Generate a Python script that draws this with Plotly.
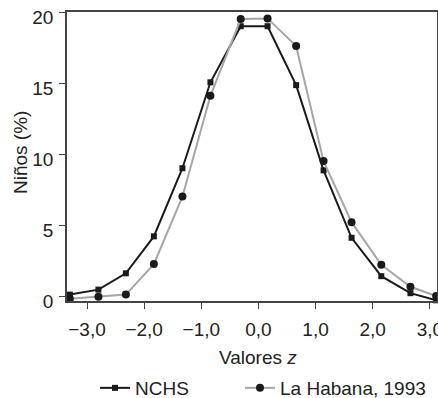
import plotly.graph_objects as go

z_vals = [-3.3, -2.8, -2.32, -1.83, -1.33, -0.84, -0.31, 0.16, 0.66, 1.14, 1.63, 2.15, 2.66, 3.11]
nchs = [0.1, 0.45, 1.6, 4.2, 9.0, 15.05, 19.0, 19.0, 14.85, 8.85, 4.1, 1.4, 0.2, -0.3]
habana = [-0.2, -0.05, 0.1, 2.25, 7.0, 14.1, 19.5, 19.55, 17.6, 9.5, 5.2, 2.2, 0.65, 0.0]

x_ticks = [-3, -2, -1, 0, 1, 2, 3]
x_ticklabels = ["−3,0", "−2,0", "−1,0", "0,0", "1,0", "2,0", "3,0"]
y_ticks = [0, 5, 10, 15, 20]

font_family = "Liberation Sans, Arial, sans-serif"
W, H = 438, 398

fig = go.Figure()
fig.add_trace(go.Scatter(
    x=z_vals, y=nchs, name="NCHS", mode="lines+markers",
    line=dict(color="#1a1a1a", width=2),
    marker=dict(symbol="square", size=6, color="#1a1a1a"),
    cliponaxis=False, legend="legend",
))
fig.add_trace(go.Scatter(
    x=z_vals, y=habana, name="La Habana, 1993", mode="lines+markers",
    line=dict(color="#a6a6a6", width=2),
    marker=dict(symbol="circle", size=8, color="#1a1a1a"),
    cliponaxis=False, legend="legend2",
))

leg_common = dict(orientation="h", yanchor="middle", yref="container", xref="container",
                  y=1 - 388 / H,
                  font=dict(size=19, color="#222"), bgcolor="rgba(0,0,0,0)",
                  borderwidth=0)

fig.update_layout(
    width=W, height=H,
    margin=dict(l=67, r=1, t=12, b=97, autoexpand=False),
    paper_bgcolor="white", plot_bgcolor="white",
    font=dict(family=font_family, size=19, color="#222"),
    showlegend=True,
    legend=dict(x=95 / W, xanchor="left", **leg_common),
    legend2=dict(x=240 / W, xanchor="left", **leg_common),
    xaxis=dict(
        range=[-3.35, 3.125], tickvals=x_ticks, ticktext=x_ticklabels, automargin=False,
        showgrid=False, zeroline=False, showline=True, linecolor="#444", linewidth=1.5,
        mirror=True, ticks="outside", ticklen=6, tickcolor="#444",
        tickfont=dict(size=19), ticklabelstandoff=4, ticklabeloverflow="allow",
    ),
    yaxis=dict(
        range=[-0.35, 20], tickvals=y_ticks, automargin=False,
        showgrid=False, zeroline=False, showline=True, linecolor="#444", linewidth=1.5,
        mirror=True, ticks="outside", ticklen=6, tickcolor="#444",
        tickfont=dict(size=19), ticklabelstandoff=2, ticklabelshift=5,
        ticklabeloverflow="allow",
    ),
    annotations=[
        dict(text="Valores <i>z</i>", xref="paper", yref="paper",
             x=(258 - 67) / 370, y=-(357 - 301) / 289, xanchor="center", yanchor="middle",
             showarrow=False, font=dict(size=19, color="#222")),
        dict(text="Niños (%)", xref="paper", yref="paper", textangle=-90,
             x=-(67 - 20) / 370, y=(301 - 153) / 289, xanchor="center", yanchor="middle",
             showarrow=False, font=dict(size=19, color="#222")),
    ],
)

fig.write_html("out.html", config={"displayModeBar": False},
               post_script="document.body.style.margin='0';")
